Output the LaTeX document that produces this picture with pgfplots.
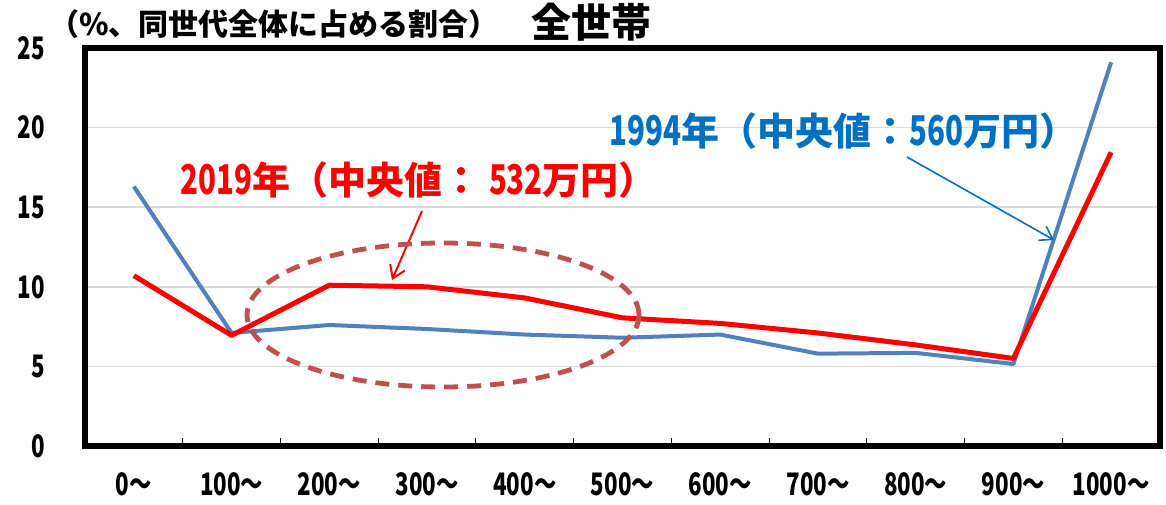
\documentclass[border=0pt]{standalone}
\usepackage{fontspec}
\setmainfont{Noto Sans CJK JP}
\newfontfamily\narrowfont{Noto Sans CJK JP}[FakeStretch=0.72]
\usepackage{pgfplots}
\pgfplotsset{compat=1.18}
\usetikzlibrary{arrows.meta}

\definecolor{blueline}{HTML}{4F81BD}
\definecolor{blueann}{HTML}{0070C0}
\definecolor{ovalred}{HTML}{C0504D}
\definecolor{gridgray}{HTML}{D9D9D9}

% narrow digits inside the annotations
\newcommand{\nd}[1]{{\narrowfont\fontsize{20.5pt}{20.5pt}\selectfont #1}}

\begin{document}
\begin{tikzpicture}
% page = 1166 x 504 px at 0.5pt per px, axis box from px (85,48) to (1160,446)
\useasboundingbox (-42.5pt,-29pt) rectangle (540.5pt,223pt);
\begin{axis}[
    at={(0,0)}, anchor=south west,
    scale only axis,
    width=537.5pt,
    height=199pt,
    xmin=-0.5, xmax=10.5,
    ymin=0, ymax=25,
    xtick={0,1,2,3,4,5,6,7,8,9,10},
    xticklabels={0〜,100〜,200〜,300〜,400〜,500〜,600〜,700〜,800〜,900〜,1000〜},
    major tick length=0pt,
    extra x ticks={0.5,1.5,2.5,3.5,4.5,5.5,6.5,7.5,8.5,9.5},
    extra x tick labels={},
    extra x tick style={major tick length=4pt, xtick style={draw=black, line width=0.5pt}},
    xtick pos=bottom,
    ytick={0,5,10,15,20,25},
    yticklabels={0,5,10,15,20,25},
    ytick style={draw=none},
    ymajorgrids,
    major grid style={gridgray, line width=0.8pt},
    axis line style={line width=2.6pt, line cap=rect},
    xticklabel style={font=\narrowfont\bfseries\fontsize{15.5pt}{15.5pt}\selectfont, anchor=north, inner sep=0pt, yshift=-13pt},
    yticklabel style={font=\narrowfont\bfseries\fontsize{15.5pt}{15.5pt}\selectfont, anchor=east, inner sep=0pt, xshift=-20pt},
]
% 1994
\addplot[blueline, line width=2pt, line join=round, mark=none] coordinates {
    (0,16.3) (1,7.1) (2,7.6) (3,7.35) (4,7.0) (5,6.8)
    (6,7.0) (7,5.8) (8,5.85) (9,5.15) (10,24.1)
};
% 2019
\addplot[red, line width=2.5pt, line join=round, mark=none] coordinates {
    (0,10.7) (1,6.95) (2,10.1) (3,10.0) (4,9.3) (5,8.05)
    (6,7.7) (7,7.1) (8,6.35) (9,5.5) (10,18.45)
};
\end{axis}

% annotations, in pixel units of the reference
\begin{scope}[shift={(-42.5pt,223pt)}, x=0.5pt, y=-0.5pt]
\node[anchor=west, inner sep=0pt, font=\bfseries\fontsize{15pt}{15pt}\selectfont] at (49,24) {（\%、同世代全体に占める割合）};
\node[inner sep=0pt, font=\bfseries\fontsize{20pt}{20pt}\selectfont] at (591,22) {全世帯};
\node[anchor=west, inner sep=0pt, text=red, font=\bfseries\fontsize{19pt}{19pt}\selectfont] at (180,180) {\nd{2019}年（中央値： \nd{532}万円）};
\node[anchor=west, inner sep=0pt, text=blueann, font=\bfseries\fontsize{19pt}{19pt}\selectfont] at (609,131) {\nd{1994}年（中央値：\nd{560}万円）};
\draw[red, line width=1pt, -{Straight Barb[length=6pt, width=8pt]}] (422,211) -- (392,280);
\draw[blueann, line width=0.8pt, -{Straight Barb[length=6pt, width=8pt]}] (907,157) -- (1054,240);
\draw[ovalred, line width=2.4pt, dash pattern=on 7pt off 4.5pt] (443,315) ellipse [x radius=98pt, y radius=36pt];
\end{scope}
\end{tikzpicture}
\end{document}
